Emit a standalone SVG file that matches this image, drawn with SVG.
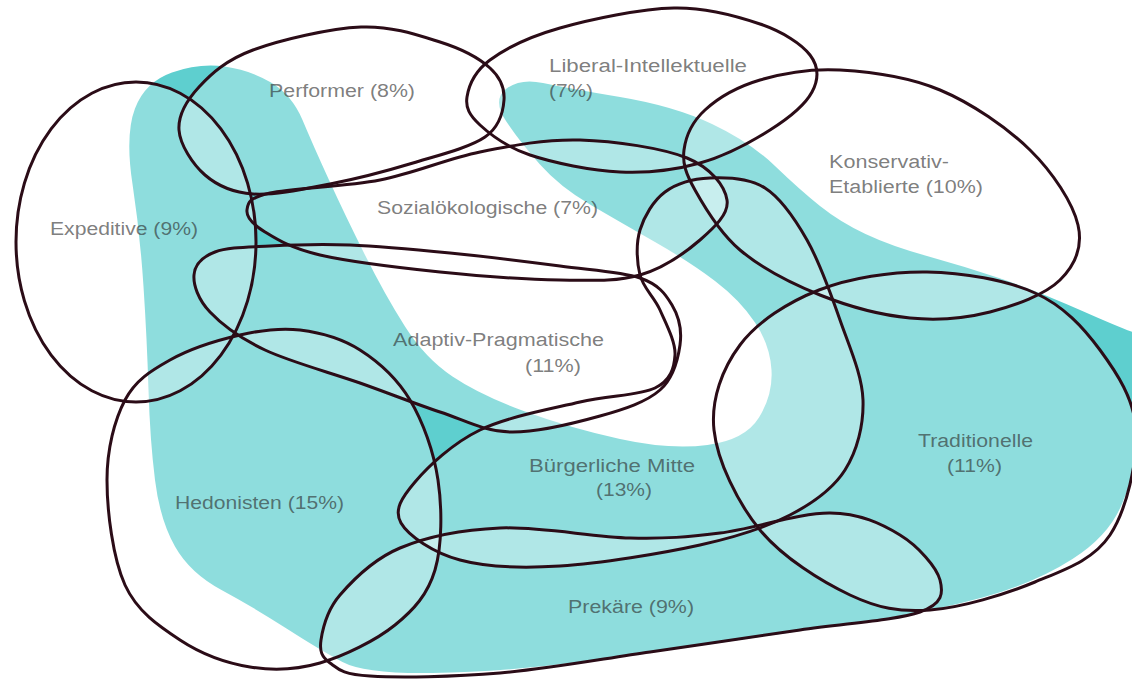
<svg xmlns="http://www.w3.org/2000/svg" xmlns:xlink="http://www.w3.org/1999/xlink" width="1132" height="679" viewBox="0 0 1132 679">
<style>
.blob{fill:#5ecfcf}
.veil{fill:#ffffff;fill-opacity:0.3;stroke:none}
.outline{fill:none;stroke:#2b0c17;stroke-width:3;stroke-linejoin:round}
.lbl{font-family:"Liberation Sans",Arial,sans-serif;font-size:18px;fill:#2a2a2a;fill-opacity:0.62}
</style>
<defs>
<path id="s-trad" d="M714,430 C710.7,399.2 722.5,368.3 740,345 C757.5,321.7 787.8,302.2 819,290 C850.2,277.8 891,271.5 927,272 C963,272.5 1006.2,280 1035,293 C1063.8,306 1083.2,327.2 1100,350 C1116.8,372.8 1134.3,399.2 1136,430 C1137.7,460.8 1126.8,509.7 1110,535 C1093.2,560.3 1065,569.5 1035,582 C1005,594.5 960.8,607.8 930,610 C899.2,612.2 878.3,608.3 850,595 C821.7,581.7 782.7,557.5 760,530 C737.3,502.5 717.3,460.8 714,430 Z"/>
<path id="s-kons" d="M684,150 C685.7,136.7 692.3,121.7 705,110 C717.7,98.3 737.5,86.7 760,80 C782.5,73.3 810,68.3 840,70 C870,71.7 908.3,76.7 940,90 C971.7,103.3 1007,127.5 1030,150 C1053,172.5 1073,203.3 1078,225 C1083,246.7 1074.7,265.5 1060,280 C1045.3,294.5 1015,305.7 990,312 C965,318.3 938.3,320.8 910,318 C881.7,315.2 848.3,306.3 820,295 C791.7,283.7 760.8,267.5 740,250 C719.2,232.5 704.3,206.7 695,190 C685.7,173.3 682.3,163.3 684,150 Z"/>
<path id="s-lib" d="M467,97 C468.7,86.2 474.5,71.5 490,60 C505.5,48.5 529.3,36.7 560,28 C590.7,19.3 640.7,8.7 674,8 C707.3,7.3 737.3,16.2 760,24 C782.7,31.8 801.3,43.7 810,55 C818.7,66.3 818.7,79.5 812,92 C805.3,104.5 788.7,118.2 770,130 C751.3,141.8 725,156 700,163 C675,170 648.3,173.3 620,172 C591.7,170.7 553.3,162.8 530,155 C506.7,147.2 490.5,134.7 480,125 C469.5,115.3 465.3,107.8 467,97 Z"/>
<path id="s-perf" d="M179,130 C178,115.3 186.7,100.3 199,87 C211.3,73.7 226,60 253,50 C280,40 329.8,28.3 361,27 C392.2,25.7 418.5,35.2 440,42 C461.5,48.8 479.3,58.3 490,68 C500.7,77.7 504.8,88.5 504,100 C503.2,111.5 500.2,126.5 485,137 C469.8,147.5 438.8,155.2 413,163 C387.2,170.8 356.7,178.8 330,184 C303.3,189.2 273.8,195.5 253,194 C232.2,192.5 217.3,185.7 205,175 C192.7,164.3 180,144.7 179,130 Z"/>
<ellipse id="s-exp" cx="136" cy="242" rx="120" ry="160"/>
<path id="s-soz" d="M247,210 C247.8,203.5 247.8,198 270,193 C292.2,188 345,186.8 380,180 C415,173.2 446.7,158.7 480,152 C513.3,145.3 545.5,139 580,140 C614.5,141 662.5,148 687,158 C711.5,168 724.8,186.3 727,200 C729.2,213.7 714.5,227.5 700,240 C685.5,252.5 663.3,268.3 640,275 C616.7,281.7 593.3,280.5 560,280 C526.7,279.5 480,276.2 440,272 C400,267.8 349.2,261.7 320,255 C290.8,248.3 277.2,239.5 265,232 C252.8,224.5 246.2,216.5 247,210 Z"/>
<path id="s-adap" d="M194,275 C194.8,265 202.3,256.8 215,252 C227.7,247.2 247.5,247.2 270,246 C292.5,244.8 320,243.8 350,245 C380,246.2 415,249.5 450,253 C485,256.5 528.3,261.8 560,266 C591.7,270.2 621.3,271.5 640,278 C658.7,284.5 665.3,293.8 672,305 C678.7,316.2 682,330.8 680,345 C678,359.2 673.3,378.2 660,390 C646.7,401.8 625,409 600,416 C575,423 536.7,432.7 510,432 C483.3,431.3 465,420.2 440,412 C415,403.8 389.2,393.3 360,383 C330.8,372.7 290,361.8 265,350 C240,338.2 221.8,324.5 210,312 C198.2,299.5 193.2,285 194,275 Z"/>
<path id="s-hed" d="M107,480 C107,449.2 114.5,420 125,400 C135.5,380 150.8,370.8 170,360 C189.2,349.2 218.3,340 240,335 C261.7,330 280,327.5 300,330 C320,332.5 341.7,338.3 360,350 C378.3,361.7 397,378.3 410,400 C423,421.7 433.8,451.7 438,480 C442.2,508.3 442.2,545.8 435,570 C427.8,594.2 414.2,609.5 395,625 C375.8,640.5 344.2,656 320,663 C295.8,670 273.3,670.8 250,667 C226.7,663.2 200.8,653.7 180,640 C159.2,626.3 137.2,611.7 125,585 C112.8,558.3 107,510.8 107,480 Z"/>
<path id="s-buerg" d="M640,230 C644.2,216.2 653.3,200.7 665,192 C676.7,183.3 693.3,178.7 710,178 C726.7,177.3 748.8,177.7 765,188 C781.2,198.3 794.5,218 807,240 C819.5,262 830.7,293.3 840,320 C849.3,346.7 862.2,375 863,400 C863.8,425 857.2,450.8 845,470 C832.8,489.2 814.2,502.5 790,515 C765.8,527.5 738.3,536.5 700,545 C661.7,553.5 600,563.5 560,566 C520,568.5 486.5,567.2 460,560 C433.5,552.8 408.5,536 401,523 C393.5,510 401.8,497.5 415,482 C428.2,466.5 452.5,443.3 480,430 C507.5,416.7 550.8,409 580,402 C609.2,395 639.2,395.8 655,388 C670.8,380.2 674.2,368 675,355 C675.8,342 665.8,323.3 660,310 C654.2,296.7 643.3,288.3 640,275 C636.7,261.7 635.8,243.8 640,230 Z"/>
<path id="s-prek" d="M321,640 C322.7,628.7 326.8,610.3 340,595 C353.2,579.7 373.3,559.2 400,548 C426.7,536.8 461.7,529.7 500,528 C538.3,526.3 593.3,537.2 630,538 C666.7,538.8 686.7,537.2 720,533 C753.3,528.8 800,512.7 830,513 C860,513.3 881.7,523.8 900,535 C918.3,546.2 936.7,567.2 940,580 C943.3,592.8 943.3,603.7 920,612 C896.7,620.3 845,623.3 800,630 C755,636.7 700,644.8 650,652 C600,659.2 546.7,669 500,673 C453.3,677 398.3,677.7 370,676 C341.7,674.3 338.2,669 330,663 C321.8,657 319.3,651.3 321,640 Z"/>
</defs>
<rect x="0" y="0" width="1132" height="679" fill="#ffffff"/>
<path id="teal-area" class="blob" d="M172,72.5 Q199,63 224.5,66.5 Q250,70 271,82.5 Q292,95 302.5,120 Q313,145 329,180 Q345,215 365,255 Q385,295 405,326.5 Q425,358 452.5,376.5 Q480,395 525,411.5 Q570,428 620,439 Q670,450 707.5,445 Q745,440 759,417.5 Q773,395 771.5,370 Q770,345 755,322.5 Q740,300 715,281 Q690,262 655,242 Q620,222 590,204.5 Q560,187 540,164.5 Q520,142 506,121 Q492,100 506,89 Q520,78 543,83 Q566,88 620,97 Q674,106 712,124 Q750,142 775,166 Q800,190 820,206 Q840,222 865.5,234 Q891,246 927,256 Q963,266 999,278 Q1035,290 1083.5,311.5 Q1132,333 1146,336.5 Q1160,340 1160,390 Q1160,440 1147.5,455 Q1135,470 1122.5,502.5 Q1110,535 1072.5,559 Q1035,583 982.5,597.5 Q930,612 865,621.5 Q800,631 725,642 Q650,653 575,662.5 Q500,672 432.5,673 Q365,674 342.5,662 Q320,650 286.5,628.5 Q253,607 221.5,590 Q190,573 175,546.5 Q160,520 155,480 Q150,440 148.5,390 Q147,340 143.5,286.5 Q140,233 132.5,184 Q125,135 135,108.5 Q145,82 172,72.5 Z"/>
<g id="veils">
<use href="#s-trad" class="veil"/>
<use href="#s-kons" class="veil"/>
<use href="#s-lib" class="veil"/>
<use href="#s-perf" class="veil"/>
<use href="#s-exp" class="veil"/>
<use href="#s-soz" class="veil"/>
<use href="#s-adap" class="veil"/>
<use href="#s-hed" class="veil"/>
<use href="#s-buerg" class="veil"/>
<use href="#s-prek" class="veil"/>
</g>
<g id="connectors"></g>
<g id="node-traditionelle">
<use href="#s-trad" class="outline"/>
<text class="lbl" x="918" y="447" textLength="115" lengthAdjust="spacingAndGlyphs">Traditionelle</text>
<text class="lbl" x="947" y="472" textLength="55" lengthAdjust="spacingAndGlyphs">(11%)</text>
</g>
<g id="node-konservativ-etablierte">
<use href="#s-kons" class="outline"/>
<text class="lbl" x="829" y="168" textLength="120" lengthAdjust="spacingAndGlyphs">Konservativ-</text>
<text class="lbl" x="829" y="193" textLength="154" lengthAdjust="spacingAndGlyphs">Etablierte (10%)</text>
</g>
<g id="node-liberal-intellektuelle">
<use href="#s-lib" class="outline"/>
<text class="lbl" x="549" y="72" textLength="198" lengthAdjust="spacingAndGlyphs">Liberal-Intellektuelle</text>
<text class="lbl" x="549" y="97" textLength="44" lengthAdjust="spacingAndGlyphs">(7%)</text>
</g>
<g id="node-performer">
<use href="#s-perf" class="outline"/>
<text class="lbl" x="269" y="97" textLength="146" lengthAdjust="spacingAndGlyphs">Performer (8%)</text>
</g>
<g id="node-expeditive">
<use href="#s-exp" class="outline"/>
<text class="lbl" x="50" y="235" textLength="148" lengthAdjust="spacingAndGlyphs">Expeditive (9%)</text>
</g>
<g id="node-sozialoekologische">
<use href="#s-soz" class="outline"/>
<text class="lbl" x="377" y="214" textLength="221" lengthAdjust="spacingAndGlyphs">Sozialökologische (7%)</text>
</g>
<g id="node-adaptiv-pragmatische">
<use href="#s-adap" class="outline"/>
<text class="lbl" x="393" y="346" textLength="211" lengthAdjust="spacingAndGlyphs">Adaptiv-Pragmatische</text>
<text class="lbl" x="525" y="372" textLength="56" lengthAdjust="spacingAndGlyphs">(11%)</text>
</g>
<g id="node-hedonisten">
<use href="#s-hed" class="outline"/>
<text class="lbl" x="175" y="509" textLength="169" lengthAdjust="spacingAndGlyphs">Hedonisten (15%)</text>
</g>
<g id="node-buergerliche-mitte">
<use href="#s-buerg" class="outline"/>
<text class="lbl" x="529" y="472" textLength="166" lengthAdjust="spacingAndGlyphs">Bürgerliche Mitte</text>
<text class="lbl" x="596" y="496" textLength="56" lengthAdjust="spacingAndGlyphs">(13%)</text>
</g>
<g id="node-prekaere">
<use href="#s-prek" class="outline"/>
<text class="lbl" x="568" y="613" textLength="126" lengthAdjust="spacingAndGlyphs">Prekäre (9%)</text>
</g>
</svg>
